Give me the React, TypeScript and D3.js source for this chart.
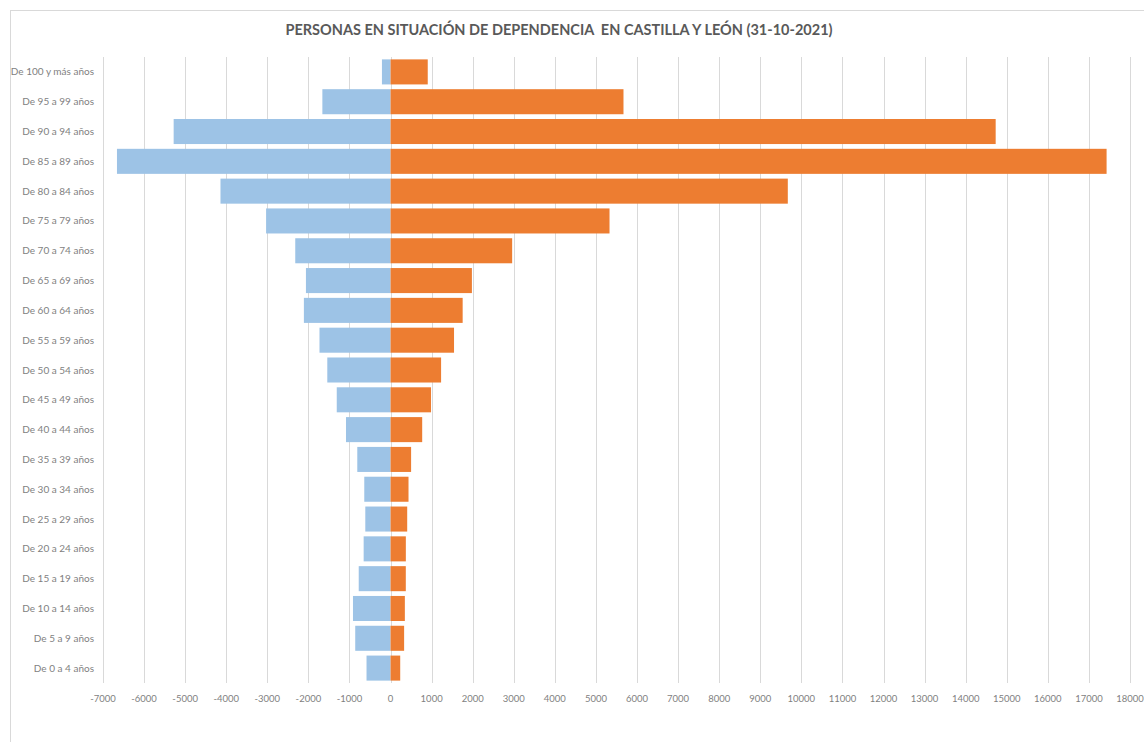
import React from "react";
import * as d3 from "d3";

const categories = [
  "De 100 y más años", "De 95 a 99 años", "De 90 a 94 años", "De 85 a 89 años",
  "De 80 a 84 años", "De 75 a 79 años", "De 70 a 74 años", "De 65 a 69 años",
  "De 60 a 64 años", "De 55 a 59 años", "De 50 a 54 años", "De 45 a 49 años",
  "De 40 a 44 años", "De 35 a 39 años", "De 30 a 34 años", "De 25 a 29 años",
  "De 20 a 24 años", "De 15 a 19 años", "De 10 a 14 años", "De 5 a 9 años",
  "De 0 a 4 años",
];
const hombres = [
  -210, -1660, -5280, -6660, -4140, -3030, -2320, -2060, -2110, -1730, -1540,
  -1310, -1085, -810, -640, -615, -655, -775, -915, -860, -585,
];
const mujeres = [
  905, 5670, 14730, 17430, 9670, 5330, 2960, 1980, 1755, 1545, 1230, 985, 770,
  500, 437, 405, 372, 371, 348, 330, 235,
];
const xTicks = d3.range(-7000, 18001, 1000);
const title = "PERSONAS EN SITUACIÓN DE DEPENDENCIA  EN CASTILLA Y LEÓN (31-10-2021)";

const W = 1144;
const H = 742;
const FONT = "Lato, 'Open Sans', sans-serif";

export default function App() {
  const x = d3.scaleLinear().domain([-7000, 18000]).range([103, 1130]);
  const y = d3
    .scaleBand<string>()
    .domain(categories)
    .range([57, 683])
    .paddingInner(0.16)
    .paddingOuter(0.08);

  return (
    <svg
      width={W}
      height={H}
      style={{ position: "absolute", left: 0, top: 0, background: "#fff" }}
    >
      <rect x={10.5} y={10.5} width={W + 20} height={H + 20} fill="#fff" stroke="#d9d9d9" />
      <text
        x={559}
        y={35}
        textAnchor="middle"
        fontFamily={FONT}
        fontWeight="bold"
        fontSize={14.5}
        fill="#595959"
        style={{ whiteSpace: "pre" }}
      >
        {title}
      </text>
      {xTicks.map((t) => (
        <g key={t}>
          <line
            x1={Math.round(x(t)) + 0.5}
            x2={Math.round(x(t)) + 0.5}
            y1={57}
            y2={683}
            stroke="#d9d9d9"
            strokeWidth={1}
          />
          <text
            x={x(t)}
            y={702}
            textAnchor="middle"
            fontFamily={FONT}
            fontSize={9.5}
            fill="#7f7f7f"
          >
            {t}
          </text>
        </g>
      ))}
      {categories.map((c, i) => (
        <g key={c}>
          <rect
            x={x(hombres[i])}
            y={y(c)}
            width={x(0) - x(hombres[i])}
            height={y.bandwidth()}
            fill="#9DC3E6"
          />
          <rect
            x={x(0)}
            y={y(c)}
            width={x(mujeres[i]) - x(0)}
            height={y.bandwidth()}
            fill="#ED7D31"
          />
          <text
            x={94}
            y={(y(c) ?? 0) + y.bandwidth() / 2}
            dy="0.35em"
            textAnchor="end"
            fontFamily={FONT}
            fontSize={10}
            fill="#7f7f7f"
          >
            {c}
          </text>
        </g>
      ))}
    </svg>
  );
}
